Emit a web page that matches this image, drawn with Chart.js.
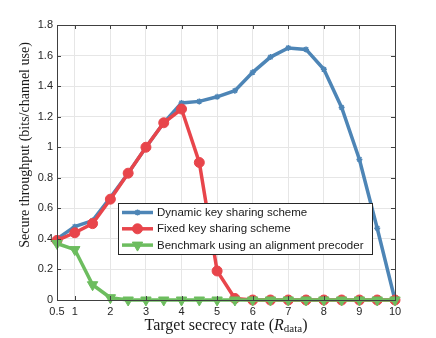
<!DOCTYPE html>
<html>
<head>
<meta charset="utf-8">
<script src="https://cdn.jsdelivr.net/npm/chart.js@4.4.0/dist/chart.umd.min.js"></script>
<style>
  html, body { margin: 0; padding: 0; background: #fff; }
  #wrap { width: 436px; height: 338px; position: relative; }
</style>
</head>
<body>
<div id="wrap"><canvas id="line-chart"></canvas></div>
<script>
// data
const rates = [0.5, 1, 1.5, 2, 2.5, 3, 3.5, 4, 4.5, 5, 5.5, 6, 6.5, 7, 7.5, 8, 8.5, 9, 9.5, 10];
const dynamicKey = [0.40, 0.48, 0.52, 0.67, 0.83, 1.00, 1.16, 1.29, 1.30, 1.33, 1.37, 1.49, 1.59, 1.65, 1.64, 1.51, 1.26, 0.92, 0.47, 0];
const fixedKey = [0.39, 0.44, 0.50, 0.66, 0.83, 1.00, 1.16, 1.25, 0.90, 0.19, 0.01, 0, 0, 0, 0, 0, 0, 0, 0, 0];
const benchmark = [0.37, 0.33, 0.10, 0.015, 0, 0, 0, 0, 0, 0, 0, 0, 0, 0, 0, 0, 0, 0, 0, 0];
const xTicks = [0.5, 1, 2, 3, 4, 5, 6, 7, 8, 9, 10];
const yTicks = [0, 0.2, 0.4, 0.6, 0.8, 1, 1.2, 1.4, 1.6, 1.8];

const pts = arr => arr.map((v, i) => ({x: rates[i], y: v}));

const tickFont = {family: "'Liberation Sans', Arial, sans-serif", size: 11};
const axisColor = '#404040';

// legend box drawn inside the plot, like the original
const innerLegend = {
    id: 'innerLegend',
    afterDatasetsDraw(chart) {
        const ctx = chart.ctx;
        const x0 = 118, y0 = 203, w = 254, h = 51;
        ctx.save();
        ctx.fillStyle = '#fff';
        ctx.fillRect(x0, y0, w, h);
        ctx.strokeStyle = '#262626';
        ctx.lineWidth = 1;
        ctx.strokeRect(x0 + 0.5, y0 + 0.5, w, h);
        ctx.font = "11.5px 'Liberation Sans', Arial, sans-serif";
        ctx.textBaseline = 'middle';
        chart.data.datasets.forEach((ds, i) => {
            const y = y0 + 9.5 + i * 16.3;
            ctx.strokeStyle = ds.borderColor;
            ctx.lineWidth = ds.borderWidth;
            ctx.beginPath();
            ctx.moveTo(x0 + 4, y);
            ctx.lineTo(x0 + 35, y);
            ctx.stroke();
            ctx.fillStyle = ds.pointBackgroundColor;
            ctx.strokeStyle = ds.borderColor;
            ctx.lineWidth = ds.pointBorderWidth;
            Chart.helpers.drawPoint(ctx, {
                pointStyle: ds.pointStyle, rotation: ds.pointRotation || 0,
                radius: ds.pointRadius, borderWidth: ds.pointBorderWidth
            }, x0 + 19.5, y);
            ctx.fillStyle = '#1a1a1a';
            ctx.fillText(ds.label, x0 + 39, y + 0.5);
        });
        ctx.restore();
    }
};

// box, inward ticks and axis titles
const frame = {
    id: 'frame',
    afterDraw(chart) {
        const ctx = chart.ctx, a = chart.chartArea;
        const xs = chart.scales.x, ys = chart.scales.y;
        ctx.save();
        ctx.strokeStyle = axisColor;
        ctx.lineWidth = 1;
        ctx.strokeRect(Math.round(a.left) + 0.5, Math.round(a.top) + 0.5,
            Math.round(a.right - a.left), Math.round(a.bottom - a.top));
        ctx.beginPath();
        xTicks.forEach(t => {
            const px = Math.round(xs.getPixelForValue(t)) + 0.5;
            ctx.moveTo(px, a.bottom); ctx.lineTo(px, a.bottom - 4);
            ctx.moveTo(px, a.top); ctx.lineTo(px, a.top + 4);
        });
        yTicks.forEach(t => {
            const py = Math.round(ys.getPixelForValue(t)) + 0.5;
            ctx.moveTo(a.left, py); ctx.lineTo(a.left + 4, py);
            ctx.moveTo(a.right, py); ctx.lineTo(a.right - 4, py);
        });
        ctx.stroke();

        ctx.fillStyle = '#1a1a1a';
        // y title
        ctx.font = "14px 'Liberation Serif', 'Times New Roman', serif";
        ctx.textAlign = 'center';
        ctx.textBaseline = 'middle';
        ctx.save();
        ctx.translate(25, 145);
        ctx.rotate(-Math.PI / 2);
        ctx.fillText('Secure throughput (bits/channel use)', 0, 0);
        ctx.restore();
        // x title with subscript
        const parts = [
            {t: 'Target secrecy rate (', f: "16px 'Liberation Serif', serif", dy: 0},
            {t: 'R', f: "italic 16px 'Liberation Serif', serif", dy: 0},
            {t: 'data', f: "11px 'Liberation Serif', serif", dy: 3.5},
            {t: ')', f: "16px 'Liberation Serif', serif", dy: 0}
        ];
        let total = 0;
        parts.forEach(p => { ctx.font = p.f; p.w = ctx.measureText(p.t).width; total += p.w; });
        let x = (a.left + a.right) / 2 - total / 2;
        ctx.textAlign = 'left';
        parts.forEach(p => {
            ctx.font = p.f;
            ctx.fillText(p.t, x, 326 + p.dy);
            x += p.w;
        });
        ctx.restore();
    }
};

new Chart(document.getElementById("line-chart"), {
    type: 'line',
    data: {
        datasets: [{
            label: "Dynamic key sharing scheme",
            data: pts(dynamicKey),
            borderColor: "#4d85b6",
            pointBackgroundColor: "#4d85b6",
            borderWidth: 3.5,
            pointStyle: 'star',
            pointRadius: 3,
            pointBorderWidth: 1.5,
            order: 2,
            clip: false
        }, {
            label: "Fixed key sharing scheme",
            data: pts(fixedKey),
            borderColor: "#e8454b",
            pointBackgroundColor: "#e8454b",
            borderWidth: 3.5,
            pointStyle: 'circle',
            pointRadius: 5,
            pointBorderWidth: 1,
            order: 1,
            clip: false
        }, {
            label: "Benchmark using an alignment precoder",
            data: pts(benchmark),
            borderColor: "#6dbd5f",
            pointBackgroundColor: "#6dbd5f",
            borderWidth: 3.5,
            pointStyle: 'triangle',
            pointRotation: 180,
            pointRadius: 6,
            pointBorderWidth: 1,
            order: 0,
            clip: false
        }]
    },
    options: {
        responsive: true,
        maintainAspectRatio: false,
        animation: false,
        layout: {padding: {left: 0, top: 25, right: 41, bottom: 0}},
        plugins: {legend: {display: false}, tooltip: {enabled: false}},
        scales: {
            x: {
                type: 'linear', min: 0.5, max: 10,
                afterBuildTicks: s => { s.ticks = xTicks.map(v => ({value: v})); },
                afterFit: s => { s.height = 38; },
                grid: {color: '#e6e6e6', drawTicks: false},
                border: {display: false},
                ticks: {font: tickFont, color: '#262626', padding: 5, maxRotation: 0, autoSkip: false,
                        callback: v => String(v)}
            },
            y: {
                min: 0, max: 1.8,
                afterBuildTicks: s => { s.ticks = yTicks.map(v => ({value: v})); },
                afterFit: s => { s.width = 57; },
                grid: {color: '#e6e6e6', drawTicks: false},
                border: {display: false},
                ticks: {font: tickFont, color: '#262626', padding: 4, callback: v => String(v)}
            }
        }
    },
    plugins: [innerLegend, frame]
});
</script>
</body>
</html>
